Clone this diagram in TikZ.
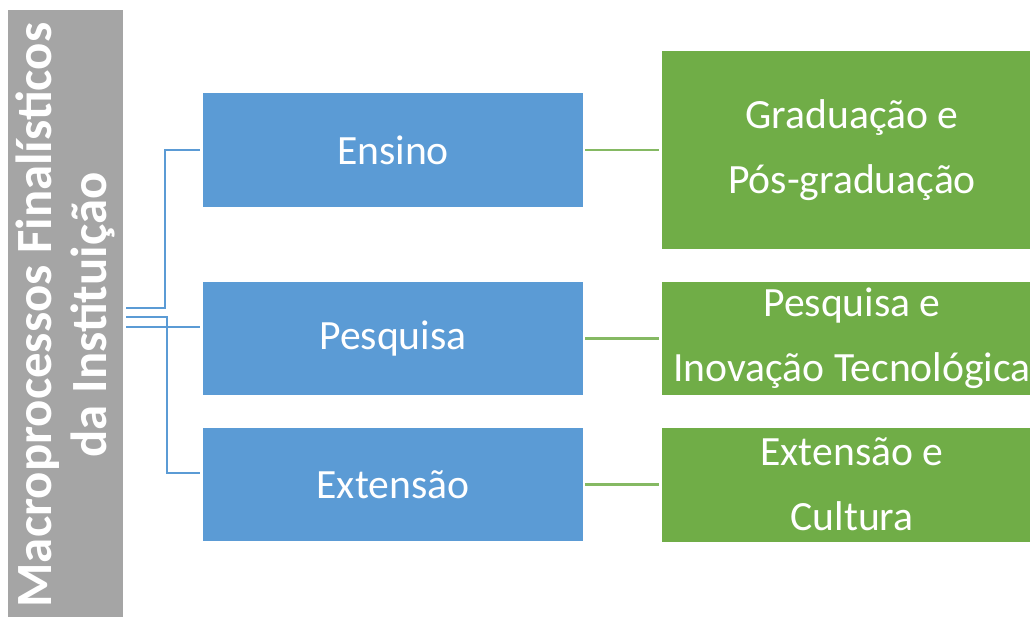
\documentclass[tikz,border=0pt]{standalone}
\usepackage{fontspec}
\setmainfont{Carlito}
\usetikzlibrary{calc}
\definecolor{boxblue}{HTML}{5B9BD5}
\definecolor{boxgreen}{HTML}{70AD47}
\definecolor{boxgray}{HTML}{A5A5A5}
\begin{document}
\begin{tikzpicture}[x=0.02cm,y=-0.02cm,
  proc/.style={fill=boxblue,text=white,minimum width=7.6cm,minimum height=2.27cm,inner sep=0pt,font=\fontsize{23.7}{36.85}\selectfont},
  area/.style={fill=boxgreen,text=white,minimum width=7.6cm,inner sep=0pt,align=center,font=\fontsize{23.7}{36.85}\selectfont},
  link/.style={boxblue,line width=1.2pt},
  leaf/.style={boxgreen!85!white,line width=1.4pt,shorten <=0.04cm,shorten >=0.06cm}]
\useasboundingbox (0,0) rectangle (1030,616);
\clip (0,0) rectangle (1030,616);
\node[fill=boxgray,minimum width=2.3cm,minimum height=12.2cm,inner sep=0pt] (M) at (65.5,315) {};
\node[rotate=90,text=white,align=center,inner sep=0pt,font=\bfseries\fontsize{28.9}{31.75}\selectfont] (MT) at (M.center) {Macroprocessos Finalísticos\\da Instituição};
\node[proc] (E1) at (393,150) {Ensino};
\node[proc] (E2) at (393,338.5) {Pesquisa};
\node[proc] (E3) at (393,484.5) {Extensão};
\node[area,minimum height=3.96cm] (G1) at (852,150) {Graduação e\\Pós-graduação};
\node[area,minimum height=2.28cm] (G2) at (852,338.5) {Pesquisa e\\Inovação Tecnológica};
\node[area,minimum height=2.28cm] (G3) at (852,484.5) {Extensão e\\Cultura};
\draw[link] ($(M.east)+(3,-7)$) -| ($(E1.west)+(-38,0)$) -- ($(E1.west)+(-3,0)$);
\draw[link] ($(M.east)+(3,2)$) -| ($(E3.west)+(-36,-11.5)$) -- ($(E3.west)+(-3,-11.5)$);
\draw[link] ($(M.east)+(3,12)$) -- ($(E2.west)+(-3,-11.5)$);
\draw[leaf] (E1) -- (G1);
\draw[leaf] (E2) -- (G2);
\draw[leaf] (E3) -- (G3);
\end{tikzpicture}
\end{document}
